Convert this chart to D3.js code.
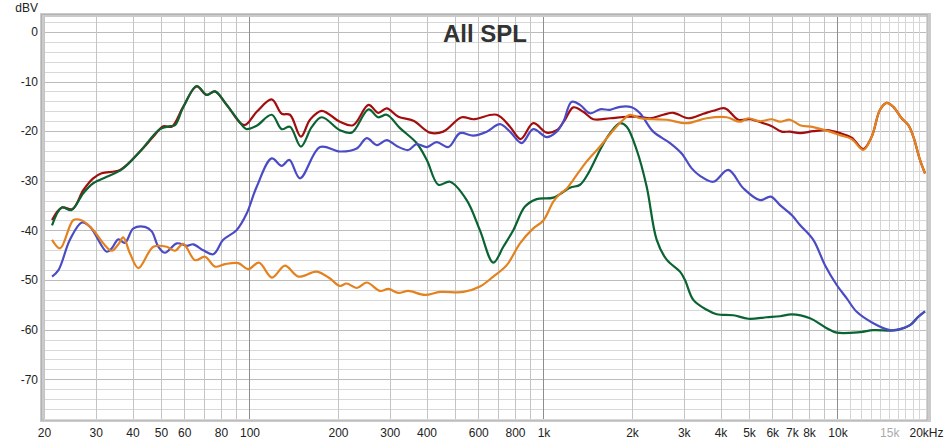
<!DOCTYPE html>
<html><head><meta charset="utf-8">
<script src="https://cdn.jsdelivr.net/npm/d3@7"></script>
<style>
body{margin:0;background:#fff}
svg{display:block}
text{font-family:"Liberation Sans",Arial,sans-serif}
</style></head>
<body><svg id="c" width="948" height="444"></svg>
<script>
// ---- data (Hz, dBV) ----
const redFreq = [21.3,23.0,25.0,27.2,29.4,31.4,36.3,42.4,47.1,50.9,54.4,59.5,66.1,71.5,76.3,83.6,96,105.8,119,128.7,137.3,149.6,160.6,176,203,225,254,274,293,321,361,411,456,527,577,693,769,836,923,1026,1109,1183,1263,1366,1477,1684,1919,2130,2302,2556,2764,3108,3496,3780,4144,4598,5040,5592,5974,6460,6892,7454,8274,9186,10198,11176,12242,13072,13950,14700,15482,16532,17418,18112,19080,19844];
const redDb = [-37.9,-35.4,-35.7,-31.9,-29.5,-28.5,-27.8,-24.1,-21.1,-19.0,-19.1,-15.1,-11.0,-12.7,-12.0,-14.7,-18.8,-16.1,-13.6,-16.5,-16.7,-21.1,-17.7,-15.9,-18.1,-18.8,-14.7,-16.3,-15.4,-17.1,-17.9,-20.3,-20.1,-17.2,-17.6,-16.7,-19.1,-21.6,-18.4,-20.3,-19.8,-17.7,-15.2,-16.1,-17.6,-17.4,-17.1,-17.1,-17.4,-16.7,-16.3,-17.4,-16.5,-15.9,-15.4,-17.7,-17.6,-18.4,-19.0,-20.1,-20.1,-20.4,-20.0,-19.8,-20.4,-21.3,-23.6,-21.1,-15.7,-14.3,-15.1,-17.4,-18.8,-21.1,-25.8,-28.5];

const greenFreq = [21.3,23.0,24.8,27.2,29.4,32.7,36.8,42.4,49.6,53.7,55.8,59.5,66.1,71.5,76.3,83.6,95.3,97.8,105.8,119,128.7,137.3,149.6,162.7,176,203,222.7,254,274,293,325,370,401,439,481,548,608,675,730,790,865,948,1080,1231,1331,1420,1557,1684,1821,1919,2075,2244,2427,2624,2913,3029,3233,3592,3884,4422,4974,5744,6374,6986,8062,9186,9942,11928,13236,15900,17650,18830,19844];
const greenDb = [-39.0,-35.4,-35.9,-32.5,-30.5,-29.2,-27.7,-24.1,-19.6,-19.0,-18.8,-15.2,-10.9,-12.7,-12.0,-14.7,-19.1,-19.6,-18.9,-16.7,-19.6,-19.1,-23.1,-19.2,-17.2,-19.8,-20.3,-15.6,-17.2,-16.7,-19.4,-22.4,-25.8,-30.8,-30.2,-33.9,-40.0,-46.5,-43.3,-39.9,-35.2,-33.7,-33.4,-31.4,-30.8,-28.5,-23.8,-20.4,-18.4,-19.1,-23.8,-31.2,-41.9,-45.9,-48.3,-50.0,-54.0,-56.0,-56.9,-57.1,-57.8,-57.5,-57.3,-56.9,-57.7,-59.7,-60.6,-60.5,-60.1,-60.1,-59.1,-57.4,-56.3];

const blueFreq = [21.3,22.4,24.5,26.9,28.7,32.7,34.0,35.8,37.7,40.3,44.1,46.5,49.0,51.6,56.6,61.2,64.4,69.6,75.3,81.4,90.5,97.8,105.8,119,128.7,136.6,148.5,173.7,203,231.6,250.5,270.9,293,316.8,346.7,370,401,433,475,520,577,641,711,769,843,923,1026,1109,1168,1247,1331,1439,1557,1684,1821,1995,2130,2362,2694,2951,3192,3406,3780,4252,4782,5450,5928,6374,6986,7454,8274,9068,9942,10752,11626,13236,15088,16316,17650,18830,19844];
const blueDb = [-49.3,-48.0,-41.9,-38.4,-39.3,-44.3,-43.6,-41.8,-42.5,-39.6,-39.3,-40.2,-43.3,-44.5,-42.6,-43.1,-42.8,-44.0,-44.8,-41.9,-39.9,-36.6,-31.2,-25.5,-27.0,-25.8,-29.5,-23.2,-24.1,-23.5,-21.4,-22.8,-21.8,-23.0,-23.8,-22.6,-23.2,-22.2,-23.2,-20.4,-20.9,-20.1,-18.6,-20.1,-22.4,-19.6,-21.2,-20.1,-18.1,-14.1,-14.7,-16.4,-15.6,-15.7,-15.1,-15.2,-16.4,-20.1,-22.4,-24.5,-27.5,-29.0,-30.2,-27.8,-31.5,-33.9,-33.2,-34.9,-36.9,-38.9,-41.9,-47.0,-51.0,-53.7,-56.4,-58.7,-60.1,-59.9,-59.1,-57.4,-56.3];

const orangeFreq = [21.3,22.7,25.2,26.9,29.4,31.8,34.0,35.8,37.2,39.2,41.9,47.1,52.3,55.8,59.5,65.3,70.6,76.3,82.5,91.6,99.1,107.7,119.3,132,146.6,169.3,187.9,203,214,231.6,250.5,278,297,321,346.7,395,445,534,608,675,750,832,923,999,1080,1138,1199,1263,1403,1557,1728,1868,1969,2130,2333,2624,3070,3592,4198,4658,4974,5450,5974,6374,6892,7454,8274,9186,10198,11176,12242,13072,13950,14700,15482,16532,17418,18112,19080,19844];
const orangeDb = [-41.9,-43.6,-37.9,-38.0,-39.9,-42.6,-44.1,-42.8,-41.4,-44.6,-47.6,-43.3,-43.3,-44.1,-42.7,-46.0,-45.3,-47.3,-46.8,-46.6,-47.8,-46.5,-49.5,-47.1,-49.3,-48.3,-49.7,-51.2,-50.7,-51.6,-50.5,-52.2,-51.8,-52.6,-52.2,-53.0,-52.4,-52.4,-51.3,-49.3,-47.0,-42.6,-39.6,-38.0,-34.2,-32.6,-31.6,-29.8,-26.1,-23.1,-19.8,-17.7,-16.7,-17.4,-17.6,-17.7,-18.4,-17.4,-17.2,-18.1,-17.4,-18.0,-17.6,-18.1,-17.7,-18.8,-19.2,-19.9,-20.8,-21.6,-23.8,-21.1,-15.7,-14.3,-15.1,-17.4,-18.8,-21.1,-25.8,-28.5];

const xTickValues = [20,30,40,50,60,80,100,200,300,400,600,800,1000,2000,3000,4000,5000,6000,7000,8000,10000,15000,20000];
const xTickLabels = ["20","30","40","50","60","80","100","200","300","400","600","800","1k","2k","3k","4k","5k","6k","7k","8k","10k","15k","20kHz"];
const yTickValues = [0,-10,-20,-30,-40,-50,-60,-70];
const yTickLabels = ["0","-10","-20","-30","-40","-50","-60","-70"];
const titleText = "All SPL";
const yUnit = "dBV";

// ---- chart ----
const svg = d3.select("#c");
const L = 44, R = 926, T = 17, B = 419;
const x = d3.scaleLog().domain([20, 20000]).range([L, R]);
const y = d3.scaleLinear().domain([-78, 3]).range([B, T]);

// frame
svg.append("rect").attr("x", 40).attr("y", 13).attr("width", R - 40 + 5).attr("height", B - 13 + 3).attr("fill", "#cbcbcb");
svg.append("rect").attr("x", 41.5).attr("y", 14.5).attr("width", R - 41.5 + 1).attr("height", B - 14.5 + 1).attr("fill", "none").attr("stroke", "#b2b2b2");
svg.append("rect").attr("x", L).attr("y", T).attr("width", R - L).attr("height", B - T).attr("fill", "#fff");

const grid = svg.append("g");
// horizontal grid every 2 dB
for (let v = -78; v <= 2; v += 2) {
  const yy = Math.round(y(v)) + 0.5;
  grid.append("line").attr("x1", L).attr("x2", R).attr("y1", yy).attr("y2", yy)
    .attr("stroke", v % 10 === 0 ? "#bcbcbc" : "#d8d8d8").attr("stroke-width", 1);
}
// vertical grid
const vg = [];
for (let d = 10; d <= 10000; d *= 10) {
  for (let k = 1; k <= 9; k++) { const f = d * k; if (f >= 20 && f <= 20000) vg.push(f); }
}
for (let f = 11000; f < 20000; f += 1000) vg.push(f);
vg.forEach(f => {
  const xx = Math.round(x(f)) + 0.5;
  const decade = (f === 100 || f === 1000 || f === 10000);
  const col = decade ? "#8e8e8e" : (f > 10000 ? "#d6d6d6" : "#c4c4c4");
  grid.append("line").attr("x1", xx).attr("x2", xx).attr("y1", T).attr("y2", B)
    .attr("stroke", col).attr("stroke-width", 1);
});

// title
svg.append("text").attr("x", 485).attr("y", 42).attr("text-anchor", "middle")
  .attr("font-size", 24).attr("font-weight", "bold").attr("fill", "#333").text(titleText);

// curves
svg.append("clipPath").attr("id", "clip").append("rect").attr("x", L).attr("y", T).attr("width", R - L).attr("height", B - T);
const line = d3.line().x(d => x(d[0])).y(d => y(d[1])).curve(d3.curveCatmullRom.alpha(0.5));
const series = [
  [redFreq, redDb, "#a30d0d"],
  [greenFreq, greenDb, "#0a6332"],
  [blueFreq, blueDb, "#4b4bc6"],
  [orangeFreq, orangeDb, "#e3821f"]
];
const cg = svg.append("g").attr("clip-path", "url(#clip)");
series.forEach(([fs, ds, col]) => {
  cg.append("path").datum(fs.map((f, i) => [f, ds[i]]))
    .attr("fill", "none").attr("stroke", col).attr("stroke-width", 2.2)
    .attr("stroke-linejoin", "round").attr("d", line);
});

// y axis labels
const yAxis = d3.axisLeft(y).tickValues(yTickValues).tickFormat((d, i) => yTickLabels[i]).tickSize(0).tickPadding(6);
const ya = svg.append("g").attr("transform", `translate(${L},0)`).call(yAxis);
ya.select(".domain").remove();
ya.selectAll("text").attr("font-size", 12).attr("fill", "#222").attr("font-family", '"Liberation Sans",Arial,sans-serif');

svg.append("text").attr("x", 38).attr("y", 12).attr("text-anchor", "end")
  .attr("font-size", 12).attr("fill", "#222").text(yUnit);

// x axis labels
const xAxis = d3.axisBottom(x).tickValues(xTickValues).tickFormat((d, i) => xTickLabels[i]).tickSize(0).tickPadding(9);
const xa = svg.append("g").attr("transform", `translate(0,${B})`).call(xAxis);
xa.select(".domain").remove();
xa.selectAll("text").attr("font-size", 12).attr("font-family", '"Liberation Sans",Arial,sans-serif')
  .attr("fill", d => d === 15000 ? "#aaaaaa" : "#222");
</script>
</body></html>
